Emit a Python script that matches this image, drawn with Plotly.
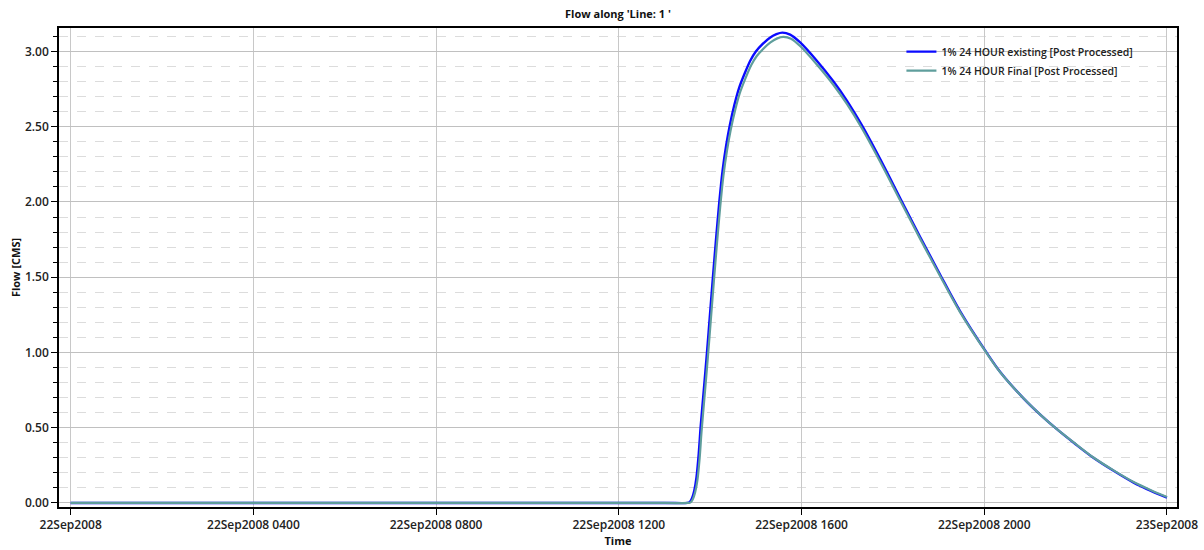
import pandas as pd
import plotly.graph_objects as go

# Hours after 22Sep2008 0000
hours_existing = [0, 13.00, 13.50, 13.55, 13.60, 13.65, 13.70, 13.75, 13.79, 13.86, 13.93, 14.00, 14.06,
                  14.13, 14.20, 14.27, 14.35, 14.43, 14.53, 14.63, 14.75, 14.88, 15.00, 15.15,
                  15.30, 15.45, 15.58, 15.75, 15.97, 16.33, 16.70, 17.00, 17.32, 17.79, 18.16,
                  18.60, 19.03, 19.47, 20.06, 20.35, 20.86, 21.25, 21.59, 22.00, 22.39, 22.85,
                  23.27, 23.65, 24.00]
flow_existing = [0, 0, 0, 0.005, 0.03, 0.08, 0.17, 0.33, 0.50, 0.75, 1.00, 1.27, 1.50,
                 1.76, 2.00, 2.205, 2.375, 2.51, 2.645, 2.755, 2.85, 2.94, 3.00, 3.05,
                 3.09, 3.115, 3.125, 3.112, 3.06, 2.94, 2.80, 2.67, 2.51, 2.245, 2.025,
                 1.765, 1.52, 1.275, 0.995, 0.87, 0.695, 0.58, 0.49, 0.39, 0.30, 0.21,
                 0.135, 0.08, 0.035]

hours_final = [0, 13.00, 13.52, 13.57, 13.62, 13.67, 13.72, 13.77, 13.81, 13.88, 13.95, 14.02, 14.08,
               14.15, 14.22, 14.29, 14.37, 14.45, 14.55, 14.65, 14.77, 14.90, 15.02, 15.17,
               15.32, 15.47, 15.60, 15.77, 15.98, 16.33, 16.70, 17.00, 17.32, 17.79, 18.16,
               18.60, 19.03, 19.47, 20.06, 20.35, 20.86, 21.25, 21.59, 22.00, 22.39, 22.85,
               23.27, 23.65, 24.00]
flow_final = [0, 0, 0, 0.004, 0.025, 0.07, 0.15, 0.30, 0.47, 0.72, 0.97, 1.24, 1.47,
              1.73, 1.97, 2.175, 2.345, 2.48, 2.615, 2.725, 2.82, 2.91, 2.97, 3.02,
              3.06, 3.087, 3.097, 3.085, 3.033, 2.915, 2.777, 2.648, 2.49, 2.228, 2.01,
              1.753, 1.51, 1.268, 0.992, 0.868, 0.695, 0.58, 0.49, 0.392, 0.302, 0.213,
              0.139, 0.085, 0.04]

tick_hours = [0, 4, 8, 12, 16, 20, 24]
tick_labels = ["22Sep2008", "22Sep2008 0400", "22Sep2008 0800", "22Sep2008 1200",
               "22Sep2008 1600", "22Sep2008 2000", "23Sep2008"]

y_ticks = [0.0, 0.5, 1.0, 1.5, 2.0, 2.5, 3.0]
y_labels = ["0.00", "0.50", "1.00", "1.50", "2.00", "2.50", "3.00"]

base = pd.Timestamp("2008-09-22 00:00")
def to_time(h):
    return [base + pd.to_timedelta(v, unit="h") for v in h]

FONT = "Open Sans"

fig = go.Figure()
fig.add_trace(go.Scatter(x=to_time(hours_existing), y=flow_existing, mode="lines",
                         name="1% 24 HOUR existing [Post Processed]",
                         line=dict(color="#0a0aff", width=2.4, shape="spline", smoothing=0.8)))
fig.add_trace(go.Scatter(x=to_time(hours_final), y=flow_final, mode="lines",
                         name="1% 24 HOUR Final [Post Processed]",
                         line=dict(color="#5f9e9c", width=2.2, shape="spline", smoothing=0.8)))

fig.update_layout(
    width=1204, height=550,
    margin=dict(l=59, r=27, t=28, b=43),
    paper_bgcolor="white", plot_bgcolor="white",
    font=dict(family=FONT, size=11, color="#222"),
    title=dict(text="<b>Flow along 'Line: 1 '</b>", x=0.5, xanchor="center",
               xref="paper", y=0.975, yanchor="middle", font=dict(size=11, color="#111")),
    showlegend=True,
    legend=dict(x=0.9655, y=0.981, xanchor="right", yanchor="top",
                bgcolor="rgba(0,0,0,0)", borderwidth=0,
                font=dict(size=10.5, color="#222", weight=600),
                itemwidth=30, tracegroupgap=0),
)

xr0 = base + pd.to_timedelta(-0.256, unit="h")
xr1 = base + pd.to_timedelta(24.22, unit="h")
fig.update_xaxes(
    range=[xr0, xr1],
    tickvals=to_time(tick_hours), ticktext=tick_labels,
    tickfont=dict(size=12, color="#222", weight=600),
    showgrid=True, gridcolor="#c8c8c8", gridwidth=1,
    ticks="outside", ticklen=6, tickcolor="#000",
    showline=True, linecolor="#000", linewidth=1.5, mirror=True,
    zeroline=False, automargin=False,
    title=dict(text="<b>Time</b>", font=dict(size=11, color="#111"), standoff=4),
)
fig.update_yaxes(
    range=[-0.027, 3.156],
    tickvals=y_ticks, ticktext=y_labels,
    tickfont=dict(size=12, color="#222", weight=600),
    showgrid=True, gridcolor="#c0c0c0", gridwidth=1,
    ticks="outside", ticklen=6, tickcolor="#000",
    minor=dict(dtick=0.1, tick0=0, showgrid=True, gridcolor="#dcdcdc", griddash="dash",
               ticks="outside", ticklen=4, tickcolor="#000"),
    showline=True, linecolor="#000", linewidth=1.5, mirror=True,
    zeroline=False, automargin=False,
    title=dict(text="<b>Flow [CMS]</b>", font=dict(size=11, color="#111"), standoff=2),
)

fig.write_html("out.html", config={"displayModeBar": False},
               post_script="document.body.style.margin='0';")
